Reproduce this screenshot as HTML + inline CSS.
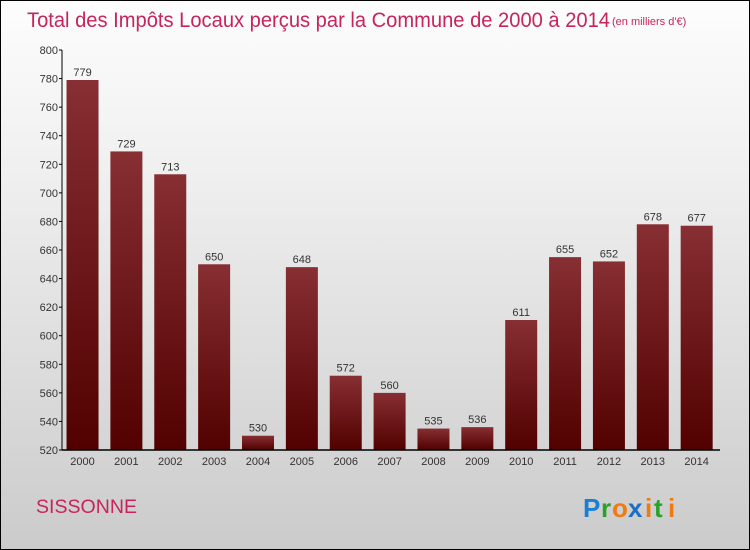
<!DOCTYPE html>
<html><head><meta charset="utf-8"><style>
html,body{margin:0;padding:0}
body{width:750px;height:550px;overflow:hidden;font-family:"DejaVu Sans","Liberation Sans",sans-serif}
#frame{position:absolute;left:0;top:0;width:748px;height:548px;border:1px solid #000;background:linear-gradient(#fdfdfd,#f0f0f0 30%,#cbcbcb)}
</style></head><body>
<div id="frame"></div>
<svg id="chart" width="750" height="550" style="position:absolute;left:0;top:0">
<defs>
<linearGradient id="bg" x1="0" y1="0" x2="0" y2="1"><stop offset="0" stop-color="#872f33"/><stop offset="1" stop-color="#520000"/></linearGradient>
</defs>
<text x="27" y="27" font-size="21" fill="#c8245a" font-family="Liberation Sans, sans-serif" textLength="583" lengthAdjust="spacingAndGlyphs">Total des Impôts Locaux perçus par la Commune de 2000 à 2014</text>
<text x="612" y="25" font-size="11" fill="#c8245a" font-family="Liberation Sans, sans-serif">(en milliers d'€)</text>
<text x="36" y="513" font-size="19" fill="#c8245a" font-family="Liberation Sans, sans-serif" textLength="101" lengthAdjust="spacingAndGlyphs">SISSONNE</text>
<g font-family="Liberation Sans, sans-serif" font-size="26" font-weight="bold">
<text x="583" y="517" fill="#1a7fd4">P</text><text x="601" y="517" fill="#2aa12a">r</text><text x="612" y="517" fill="#f07a10">o</text><text x="628" y="517" fill="#1a6fc4">x</text><text x="645" y="517" fill="#f07a10">i</text><text x="654" y="517" fill="#2aa12a">t</text><text x="668" y="517" fill="#f07a10">i</text>
</g>
<g id="plot"></g>
</svg>
<script>
const categories=["2000","2001","2002","2003","2004","2005","2006","2007","2008","2009","2010","2011","2012","2013","2014"];
const values=[779,729,713,650,530,648,572,560,535,536,611,655,652,678,677];
const yTicks=[520,540,560,580,600,620,640,660,680,700,720,740,760,780,800];
const ns="http://www.w3.org/2000/svg";
const g=document.getElementById('plot');
const x0=62,x1=720,yTop=50,yBot=450,yMin=520,yMax=800;
const step=(x1-x0)/categories.length;
const y=v=>yBot-(v-yMin)/(yMax-yMin)*(yBot-yTop);
const xc=i=>x0+step*(i+0.5)-1.4;
function mk(t,a){const e=document.createElementNS(ns,t);for(const k in a)e.setAttribute(k,a[k]);g.appendChild(e);return e;}
yTicks.forEach(t=>{
 const l=mk('line',{x1:x0-3,x2:x0,y1:y(t),y2:y(t),stroke:'#000'});
 
 
 const tx=mk('text',{x:x0-4,y:y(t)+4,'text-anchor':'end','font-size':11,fill:'#333','font-family':'Liberation Sans, sans-serif'});
 tx.textContent=t;
 
 
});
categories.forEach((c,i)=>{
 const v=values[i],bw=32;
 const r=mk('rect',{x:xc(i)-bw/2,y:y(v),width:bw,height:yBot-y(v),fill:'url(#bg)'});
 
 
 const vl=mk('text',{x:xc(i),y:y(v)-4,'text-anchor':'middle','font-size':11,fill:'#333','font-family':'Liberation Sans, sans-serif'});
 vl.textContent=v;
 
 
 const xl=mk('text',{x:xc(i),y:465,'text-anchor':'middle','font-size':11,fill:'#333','font-family':'Liberation Sans, sans-serif'});
 xl.textContent=c;
 
 
});
const ya=mk('line',{x1:x0,x2:x0,y1:yTop,y2:yBot,stroke:'#000','stroke-width':1});


const xa=mk('line',{x1:x0,x2:x1,y1:yBot,y2:yBot,stroke:'#000','stroke-width':1.5});


</script>
</body></html>
